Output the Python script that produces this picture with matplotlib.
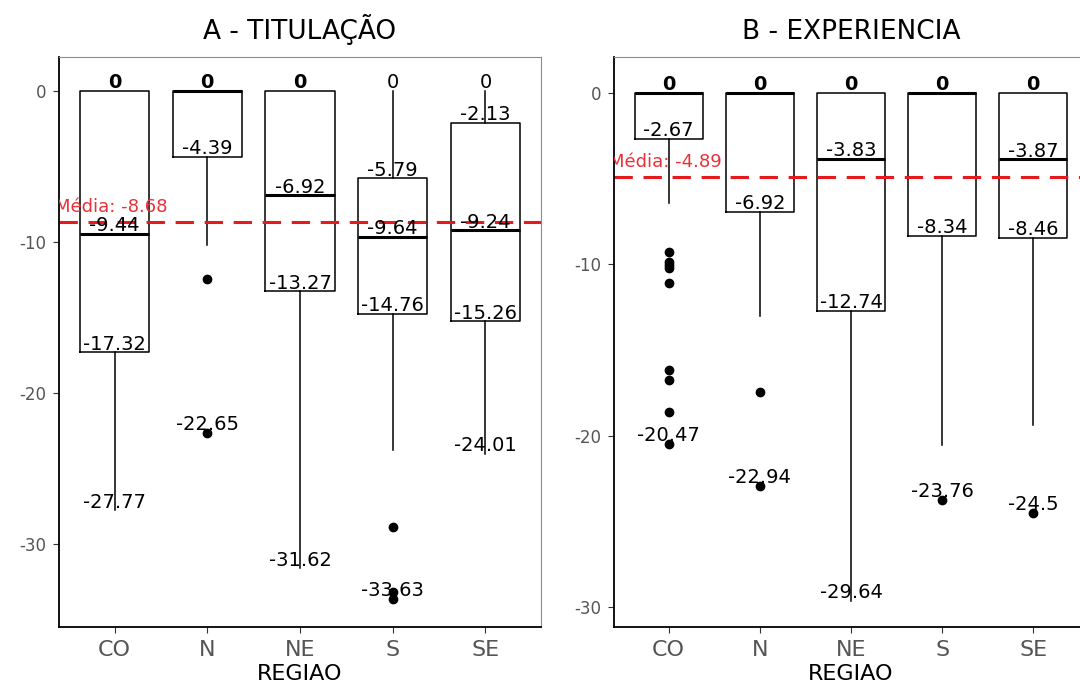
import matplotlib
matplotlib.use("Agg")
import matplotlib.pyplot as plt

plt.rcParams['axes.unicode_minus'] = False

regioes = ['CO', 'N', 'NE', 'S', 'SE']

# A - TITULACAO
tit_q1 = [-17.32, -4.39, -13.27, -14.76, -15.26]
tit_med = [-9.44, 0, -6.92, -9.64, -9.24]
tit_q3 = [0, 0, 0, -5.79, -2.13]
tit_whislo = [-27.77, -10.2, -31.62, -23.8, -24.01]
tit_whishi = [0, 0, 0, 0, 0]
tit_outliers = [[], [-12.45, -22.65], [], [-28.9, -33.15, -33.63], []]
tit_media = -8.68

# B - EXPERIENCIA
exp_q1 = [-2.67, -6.92, -12.74, -8.34, -8.46]
exp_med = [0, 0, -3.83, 0, -3.87]
exp_q3 = [0, 0, 0, 0, 0]
exp_whislo = [-6.4, -13.0, -29.64, -20.55, -19.4]
exp_whishi = [0, 0, 0, 0, 0]
exp_outliers = [[-9.28, -9.87, -10.04, -10.2, -11.09, -16.17, -16.75, -18.62, -20.47],
                [-17.45, -22.94], [], [-23.76], [-24.5]]
exp_media = -4.89


#Desenha um painel de boxplots com os rotulos dos valores
def desenhar(ax, titulo, q1, med, q3, lo, hi, outl, media, ylim):
    stats = []
    for i in range(len(regioes)):
        stats.append({'q1': q1[i], 'med': med[i], 'q3': q3[i],
                      'whislo': lo[i], 'whishi': hi[i], 'fliers': outl[i]})
    pos = list(range(1, len(regioes) + 1))
    ax.bxp(stats, positions=pos, widths=0.75, showcaps=False,
           boxprops=dict(color='black', linewidth=1.1),
           whiskerprops=dict(color='black', linewidth=1.1),
           medianprops=dict(color='black', linewidth=2.2),
           flierprops=dict(marker='o', markerfacecolor='black', markeredgecolor='black',
                           markersize=6))

    # rotulos: minimo, q1, mediana, q3, maximo (repetidos ficam sobrepostos -> negrito)
    for i in range(len(regioes)):
        minimo = min([lo[i]] + outl[i])
        maximo = max([hi[i]] + outl[i])
        valores = [minimo, q1[i], med[i], q3[i], maximo]
        for v in set(valores):
            peso = 'bold' if valores.count(v) > 1 else 'normal'
            ax.annotate(f"{v:g}", (pos[i], v), xytext=(0, 2), textcoords='offset points',
                        ha='center', va='baseline', fontsize=14, color='black',
                        fontweight=peso)

    ax.axhline(media, color='#e41a1c', linewidth=2.2, linestyle=(0, (6, 3.5)))
    ax.annotate("Média: " + str(media), (0.96, media), xytext=(0, 7), textcoords='offset points',
                ha='center', va='baseline', fontsize=13, color='#e8323a', clip_on=True)

    ax.set_xlim(0.4, 5.6)
    ax.set_ylim(ylim)
    ax.set_yticks([0, -10, -20, -30])
    ax.set_xticks(pos)
    ax.set_xticklabels(regioes)
    ax.tick_params(axis='x', labelsize=16, colors='#333333', labelcolor='#555555', length=4, pad=5)
    ax.tick_params(axis='y', labelsize=12, colors='#333333', labelcolor='#555555', length=4, pad=5)
    ax.set_xlabel("REGIAO", fontsize=16, labelpad=3)
    ax.set_title(titulo, fontsize=19, pad=13)
    for lado in ['top', 'right']:
        ax.spines[lado].set_color('#8c8c8c')
        ax.spines[lado].set_linewidth(0.8)
    for lado in ['left', 'bottom']:
        ax.spines[lado].set_color('black')
        ax.spines[lado].set_linewidth(1.3)


fig = plt.figure(figsize=(10.8, 6.84), dpi=100)
ax1 = fig.add_axes([59 / 1080, 1 - 627 / 684, 482 / 1080, 570 / 684])
ax2 = fig.add_axes([614 / 1080, 1 - 627 / 684, 474 / 1080, 570 / 684])

desenhar(ax1, "A - TITULAÇÃO", tit_q1, tit_med, tit_q3, tit_whislo, tit_whishi,
         tit_outliers, tit_media, (-35.5, 2.25))
desenhar(ax2, "B - EXPERIENCIA", exp_q1, exp_med, exp_q3, exp_whislo, exp_whishi,
         exp_outliers, exp_media, (-31.17, 2.1))

fig.savefig("out.png", dpi=100)
